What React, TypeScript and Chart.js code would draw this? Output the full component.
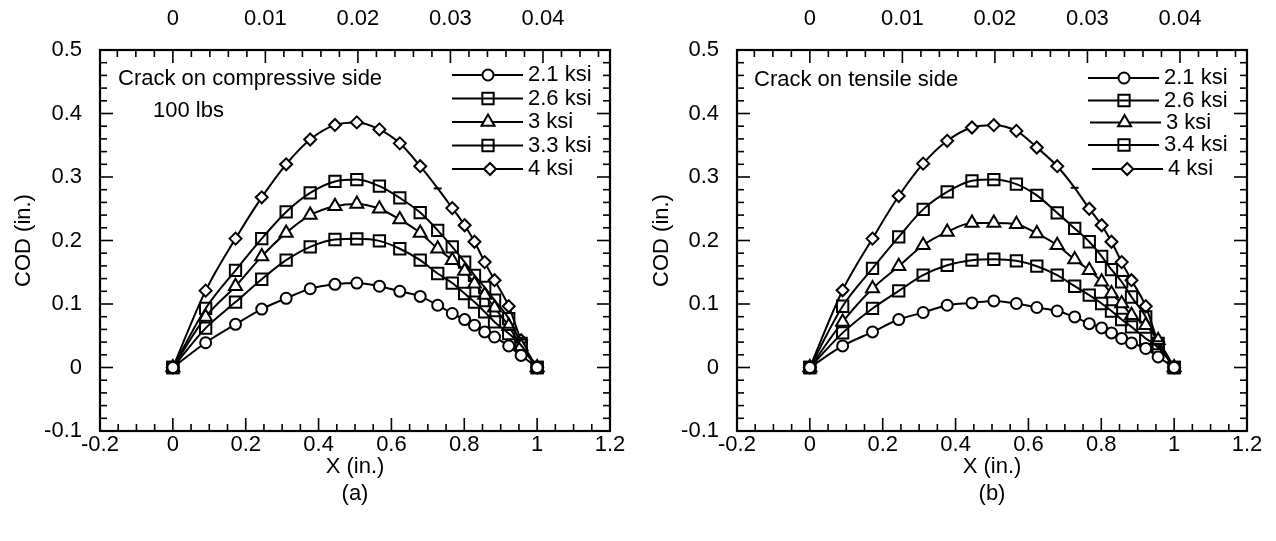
import React, { useEffect, useRef } from 'react';
import { Chart, registerables } from 'chart.js';
import { drawPoint } from 'chart.js/helpers';

Chart.register(...registerables);

// ---------- data ----------
const xPositions = [0, 0.09, 0.172, 0.244, 0.311, 0.377, 0.445, 0.505, 0.567, 0.623, 0.679, 0.727, 0.767, 0.801, 0.828, 0.856, 0.883, 0.922, 0.956, 1.0];

// panel (a): crack on compressive side
const aCod21 = [0, 0.039, 0.068, 0.092, 0.109, 0.124, 0.131, 0.133, 0.128, 0.120, 0.112, 0.098, 0.085, 0.0755, 0.0666, 0.056, 0.048, 0.034, 0.019, 0];
const aCod26 = [0, 0.062, 0.103, 0.139, 0.169, 0.190, 0.2016, 0.2026, 0.1994, 0.187, 0.169, 0.148, 0.133, 0.1165, 0.103, 0.0876, 0.0718, 0.0535, 0.035, 0];
const aCod30 = [0, 0.0797, 0.128, 0.175, 0.212, 0.240, 0.254, 0.2575, 0.250, 0.233, 0.212, 0.187, 0.169, 0.152, 0.132, 0.114, 0.094, 0.065, 0.033, 0];
const aCod33 = [0, 0.093, 0.153, 0.203, 0.245, 0.275, 0.293, 0.296, 0.2855, 0.267, 0.244, 0.216, 0.19, 0.166, 0.145, 0.126, 0.106, 0.077, 0.038, 0];
const aCod40 = [0, 0.121, 0.203, 0.268, 0.320, 0.359, 0.382, 0.386, 0.375, 0.353, 0.317, 0.282, 0.251, 0.224, 0.198, 0.166, 0.1375, 0.0965, 0.043, 0];
const aNames = ['2.1 ksi', '2.6 ksi', '3 ksi', '3.3 ksi', '4 ksi'];

// panel (b): crack on tensile side
const bCod21 = [0, 0.034, 0.056, 0.0755, 0.0866, 0.098, 0.1017, 0.1049, 0.1008, 0.0945, 0.089, 0.0797, 0.069, 0.0624, 0.0545, 0.0457, 0.0387, 0.030, 0.0167, 0];
const bCod26 = [0, 0.0545, 0.093, 0.1206, 0.1454, 0.161, 0.169, 0.1705, 0.168, 0.1595, 0.1454, 0.128, 0.1139, 0.1008, 0.089, 0.0756, 0.064, 0.0457, 0.0324, 0];
const bCod30 = [0, 0.0718, 0.1244, 0.1595, 0.1926, 0.2135, 0.2277, 0.2277, 0.2257, 0.211, 0.1926, 0.170, 0.153, 0.135, 0.1165, 0.1008, 0.0824, 0.0666, 0.043, 0];
const bCod34 = [0, 0.0965, 0.156, 0.2057, 0.249, 0.2765, 0.294, 0.296, 0.2887, 0.271, 0.2435, 0.219, 0.198, 0.175, 0.154, 0.135, 0.111, 0.0797, 0.0378, 0];
const bCod40 = [0, 0.1217, 0.203, 0.270, 0.321, 0.357, 0.378, 0.3816, 0.3726, 0.3465, 0.317, 0.283, 0.250, 0.224, 0.198, 0.166, 0.1375, 0.0965, 0.0403, 0];
const bNames = ['2.1 ksi', '2.6 ksi', '3 ksi', '3.4 ksi', '4 ksi'];

// axis ticks
const xTickLabels = [-0.2, 0, 0.2, 0.4, 0.6, 0.8, 1, 1.2];
const yTickLabels = [-0.1, 0, 0.1, 0.2, 0.3, 0.4, 0.5];
const topTickLabels = [0, 0.01, 0.02, 0.03, 0.04];
const TOP_FACTOR = 25.4; // top axis value = X / 25.4

// ---------- styles ----------
const FONT = "'Liberation Sans', Arial, Helvetica, sans-serif";
const FS = 22;
const LW = 2;
const markerStyles = [
  { pointStyle: 'circle', radius: 5.5, fill: '#ffffff' },
  { pointStyle: 'rect', radius: 8, fill: 'rgba(0,0,0,0)' },
  { pointStyle: 'triangle', radius: 7.5, fill: '#ffffff' },
  { pointStyle: 'rect', radius: 8, fill: 'rgba(0,0,0,0)' },
  { pointStyle: 'rectRot', radius: 6, fill: '#ffffff' },
];

type PanelProps = {
  series: number[][];
  names: string[];
  notes: { text: string; x: number; y: number }[];
  caption: string;
  areaLeft: number;
  areaRight: number;
  legendX: number;
  legendRows: number[];
  legendShift: number[];
};

const W = 638;
const H = 541;
const AREA_TOP = 50;
const AREA_BOTTOM = 431;

function Panel(props: PanelProps) {
  const ref = useRef<HTMLCanvasElement>(null);
  useEffect(() => {
    const { series, names, notes, caption, areaLeft, areaRight, legendX, legendRows, legendShift } = props;

    const decor = {
      id: 'decor',
      beforeDatasetsDraw(chart: any) {
        const { ctx, chartArea, scales } = chart;
        const { left, right, top, bottom } = chartArea;
        ctx.save();
        ctx.strokeStyle = '#000';
        ctx.lineWidth = 1.6;
        const seg = (x1: number, y1: number, x2: number, y2: number) => {
          ctx.beginPath();
          ctx.moveTo(x1, y1);
          ctx.lineTo(x2, y2);
          ctx.stroke();
        };
        const MAJ = 13;
        const MIN = 7;
        // bottom axis ticks
        for (let i = 1; i < 28; i++) {
          const v = xTickLabels[0] + i * 0.05;
          const px = scales.x.getPixelForValue(v);
          seg(px, bottom, px, bottom - (i % 4 === 0 ? MAJ : MIN));
        }
        // top axis ticks
        for (let i = -3; i <= 23; i++) {
          const px = scales.x2.getPixelForValue(i * 0.002);
          seg(px, top, px, top + (i % 5 === 0 ? MAJ : MIN));
        }
        // left & right ticks
        for (let i = 1; i < 30; i++) {
          const py = scales.y.getPixelForValue(yTickLabels[0] + i * 0.02);
          const len = i % 5 === 0 ? MAJ : MIN;
          seg(left, py, left + len, py);
          seg(right, py, right - len, py);
        }
        ctx.restore();
      },
      afterDraw(chart: any) {
        const { ctx, chartArea } = chart;
        const { left, right, top, bottom } = chartArea;
        ctx.save();
        ctx.strokeStyle = '#000';
        ctx.lineWidth = 2.2;
        ctx.strokeRect(left, top, right - left, bottom - top);

        ctx.fillStyle = '#000';
        ctx.font = `${FS}px ${FONT}`;
        ctx.textBaseline = 'middle';
        ctx.textAlign = 'left';
        notes.forEach((n) => ctx.fillText(n.text, n.x, n.y));

        // legend
        names.forEach((name, i) => {
          const y = legendRows[i];
          const dx = legendShift[i];
          ctx.lineWidth = LW;
          ctx.strokeStyle = '#000';
          ctx.beginPath();
          ctx.moveTo(legendX + dx, y);
          ctx.lineTo(legendX + dx + 71, y);
          ctx.stroke();
          const m = markerStyles[i];
          ctx.fillStyle = m.fill;
          drawPoint(ctx, { pointStyle: m.pointStyle, radius: m.radius, rotation: 0, borderWidth: LW } as any, legendX + 36 + (i === 4 ? 2 : 0) + dx * 0.3, y);
          ctx.fillStyle = '#000';
          ctx.fillText(name, legendX + 76 + dx, y);
        });

        // caption
        ctx.textAlign = 'center';
        ctx.fillText(caption, (left + right) / 2, 494);
        ctx.restore();
      },
    };

    const datasets = series.map((vals, i) => {
      const m = markerStyles[i];
      return {
        label: names[i],
        data: xPositions.map((x, k) => ({ x, y: vals[k] })),
        borderColor: '#000',
        borderWidth: LW,
        pointStyle: i === 4 ? xPositions.map((_, k) => (k === 11 ? 'line' : 'rectRot')) : m.pointStyle,
        pointRadius: i === 4 ? xPositions.map((_, k) => (k === 11 ? 4 : m.radius)) : m.radius,
        pointBackgroundColor: m.fill,
        pointBorderColor: '#000',
        pointBorderWidth: LW,
        cubicInterpolationMode: 'monotone',
        fill: false,
        clip: false,
      };
    });

    const tickFont = { family: FONT, size: FS };
    const chart = new Chart(ref.current as HTMLCanvasElement, {
      type: 'line',
      data: { datasets: datasets as any },
      options: {
        animation: false,
        responsive: false,
        events: [],
        layout: { padding: { left: 0, right: W - areaRight, top: 0, bottom: 0 } },
        plugins: { legend: { display: false }, tooltip: { enabled: false }, title: { display: false } },
        scales: {
          x: {
            type: 'linear',
            position: 'bottom',
            min: -0.2,
            max: 1.2,
            grid: { display: false, drawTicks: false },
            border: { display: false },
            afterBuildTicks: (s: any) => { s.ticks = xTickLabels.map((v) => ({ value: v })); },
            afterFit: (s: any) => { s.height = H - AREA_BOTTOM; },
            ticks: { font: tickFont, color: '#000', padding: 1, maxRotation: 0, autoSkip: false, callback: (v: any) => String(v) },
            title: { display: true, text: 'X (in.)', font: tickFont, color: '#000', padding: { top: 0, bottom: 61 } },
          },
          x2: {
            type: 'linear',
            position: 'top',
            min: -0.2 / TOP_FACTOR,
            max: 1.2 / TOP_FACTOR,
            grid: { display: false, drawTicks: false },
            border: { display: false },
            afterBuildTicks: (s: any) => { s.ticks = topTickLabels.map((v) => ({ value: v })); },
            afterFit: (s: any) => { s.height = AREA_TOP; },
            ticks: { font: tickFont, color: '#000', padding: 18, maxRotation: 0, autoSkip: false, callback: (v: any) => String(v) },
          },
          y: {
            type: 'linear',
            position: 'left',
            min: -0.1,
            max: 0.5,
            grid: { display: false, drawTicks: false },
            border: { display: false },
            afterBuildTicks: (s: any) => { s.ticks = yTickLabels.map((v) => ({ value: v })); },
            afterFit: (s: any) => { s.width = areaLeft; },
            ticks: { font: tickFont, color: '#000', padding: 18, autoSkip: false, callback: (v: any) => String(v) },
            title: { display: true, text: 'COD (in.)', font: tickFont, color: '#000', padding: { top: 11, bottom: 0 } },
          },
        },
      } as any,
      plugins: [decor],
    });
    return () => chart.destroy();
  }, []);
  return <canvas ref={ref} width={W} height={H} style={{ display: 'block', width: W, height: H }} />;
}

export default function App() {
  return (
    <div style={{ position: 'absolute', left: 0, top: 0, width: 1276, height: 541, background: '#fff', display: 'flex' }}>
      <Panel
        series={[aCod21, aCod26, aCod30, aCod33, aCod40]}
        names={aNames}
        notes={[
          { text: 'Crack on compressive side', x: 118, y: 79 },
          { text: '100 lbs', x: 153, y: 111 },
        ]}
        caption="(a)"
        areaLeft={100}
        areaRight={610}
        legendX={452}
        legendRows={[75, 98.5, 122, 145.5, 169]}
        legendShift={[0, 0, 0, 0, 0]}
      />
      <Panel
        series={[bCod21, bCod26, bCod30, bCod34, bCod40]}
        names={bNames}
        notes={[{ text: 'Crack on tensile side', x: 116, y: 80 }]}
        caption="(b)"
        areaLeft={99}
        areaRight={609}
        legendX={450}
        legendRows={[78, 100.5, 122.5, 145, 169]}
        legendShift={[0, 0, 2, 0, 4]}
      />
    </div>
  );
}
